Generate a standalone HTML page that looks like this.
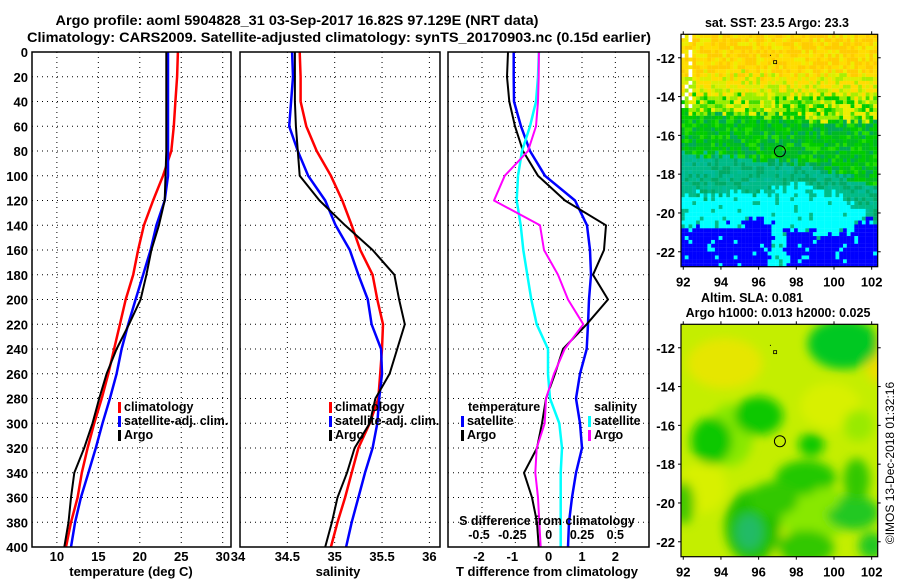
<!DOCTYPE html>
<html><head><meta charset="utf-8">
<style>
html,body{margin:0;padding:0;background:#fff;}
svg{display:block;font-family:"Liberation Sans",Arial,sans-serif;font-weight:bold;}
</style></head>
<body>
<svg id="fig" width="900" height="580" viewBox="0 0 900 580" xmlns="http://www.w3.org/2000/svg">
<defs>
<filter id="blur" x="-20%" y="-20%" width="140%" height="140%"><feGaussianBlur stdDeviation="5"/></filter>
<clipPath id="clipTop"><rect x="681" y="34.3" width="196.7" height="232.4"/></clipPath>
<clipPath id="clipBot"><rect x="681" y="324.3" width="196.7" height="232.4"/></clipPath>
</defs>
<text x="297" y="25" font-size="14" text-anchor="middle" textLength="483" lengthAdjust="spacingAndGlyphs">Argo profile: aoml 5904828_31 03-Sep-2017 16.82S 97.129E (NRT data)</text>
<text x="339" y="42" font-size="14" text-anchor="middle" textLength="624" lengthAdjust="spacingAndGlyphs">Climatology: CARS2009. Satellite-adjusted climatology: synTS_20170903.nc (0.15d earlier)</text>
<g id="panels"></g>
<g id="maps"></g>
<text transform="translate(894,463) rotate(-90)" font-size="12" font-weight="normal" text-anchor="middle">©IMOS 13-Dec-2018 01:32:16</text>
</svg>
<script>
// ---- data ----
const depths = [0,20,40,60,80,100,120,140,160,180,200,220,240,260,280,300,320,340,360,380,400];
const tempClim = [24.6,24.5,24.3,24.1,23.8,22.8,21.6,20.5,19.8,19.2,18.3,17.6,16.9,16.2,15.4,14.5,13.7,13.0,12.5,11.7,11.1];
const tempSat  = [23.4,23.4,23.4,23.4,23.4,23.4,23.0,22.0,21.3,20.4,19.5,18.6,17.8,17.2,16.4,15.5,14.7,13.8,12.9,12.2,11.7];
const tempArgo = [23.2,23.2,23.2,23.2,23.2,23.1,23.0,22.3,21.4,20.8,20.1,18.7,17.2,16.0,15.1,14.3,13.3,12.1,11.7,11.4,10.9];
const salClim = [34.63,34.64,34.64,34.70,34.81,34.96,35.08,35.18,35.27,35.40,35.45,35.51,35.50,35.48,35.46,35.37,35.25,35.18,35.11,35.03,34.96];
const salSat  = [34.55,34.56,34.54,34.52,34.61,34.72,34.90,35.01,35.16,35.25,35.35,35.39,35.49,35.50,35.47,35.45,35.40,35.32,35.25,35.18,35.12];
const salArgo = [34.58,34.58,34.58,34.59,34.61,34.63,34.84,35.11,35.40,35.63,35.68,35.74,35.66,35.58,35.43,35.37,35.21,35.13,35.03,34.97,34.90];
const dTempSat  = [-1.05,-1.05,-1.04,-0.83,-0.56,-0.11,0.79,1.15,1.24,1.27,1.21,1.18,1.14,0.94,0.82,0.94,1.0,0.82,0.7,0.61,0.58];
const dTempArgo = [-1.22,-1.25,-1.18,-1.01,-0.77,-0.32,0.49,1.72,1.66,1.33,1.78,1.14,0.43,0.19,-0.08,-0.2,-0.35,-0.74,-0.5,-0.35,-0.3];
const dSalSat  = [-0.073,-0.08,-0.095,-0.14,-0.2,-0.23,-0.24,-0.21,-0.19,-0.16,-0.13,-0.09,-0.005,-0.005,0.01,0.08,0.1,0.09,0.09,0.09,0.09];
const dSalArgo = [-0.073,-0.075,-0.08,-0.095,-0.155,-0.33,-0.41,-0.065,-0.035,0.07,0.145,0.26,0.12,0.04,-0.02,-0.03,-0.09,-0.1,-0.08,-0.07,-0.06];
const depthTicks = [0,20,40,60,80,100,120,140,160,180,200,220,240,260,280,300,320,340,360,380,400];
const tempTicks = [10,15,20,25,30];
const salTicks = [34,34.5,35,35.5,36];
const salTickLabels = ["34","34.5","35","35.5","36"];
const dTTicks = [-2,-1,0,1,2];
const dSTicks = [-0.5,-0.25,0,0.25,0.5];
const dSTickLabels = ["-0.5","-0.25","0","0.25","0.5"];
const latTicks = [-12,-14,-16,-18,-20,-22];
const lonTicks = [92,94,96,98,100,102];
const argoLon = 97.129, argoLat = -16.82;

const NS = "http://www.w3.org/2000/svg";
function mk(tag, attrs, parent){const e=document.createElementNS(NS,tag);for(const k in attrs)e.setAttribute(k,attrs[k]);if(parent)parent.appendChild(e);return e;}
const Y0=52, Y1=547;
const yD = d => Y0 + d*(Y1-Y0)/400;
const panelsG = document.getElementById('panels');

function panel(name, x0, x1, dmin, dmax){
  const sx = v => x0 + (v-dmin)*(x1-x0)/(dmax-dmin);
  const g = mk('g',{},panelsG);
  
  
  return {g, sx};
}
function grid(p, xticks, x0, x1){
  depthTicks.forEach(d=>{ if(d>0&&d<400){ const l=mk('line',{x1:x0,x2:x1,y1:yD(d),y2:yD(d),stroke:'#000','stroke-width':1,'stroke-dasharray':'1,4'},p.g);
      }});
  xticks.forEach(v=>{ const x=p.sx(v); if(x>x0+1&&x<x1-1){ const l=mk('line',{x1:x,x2:x,y1:Y0,y2:Y1,stroke:'#000','stroke-width':1,'stroke-dasharray':'1,4'},p.g);
      }});
}
function frame(p,x0,x1){ const r=mk('rect',{x:x0,y:Y0,width:x1-x0,height:Y1-Y0,fill:'none',stroke:'#000','stroke-width':1.5},p.g);
    }
function line(p, vals, color, w, name){
  const pts = vals.map((v,i)=>p.sx(v).toFixed(1)+','+yD(depths[i]).toFixed(1)).join(' ');
  const l = mk('polyline',{points:pts,fill:'none',stroke:color,'stroke-width':w,'stroke-linejoin':'round'},p.g);
   
}
function txt(parent, x, y, s, size, anchor, name){
  const t = mk('text',{x:x,y:y,'font-size':size,'text-anchor':anchor||'start'},parent);
  t.textContent = s;   return t;
}
function legend(parent, x, y, color, label, name){
  const r = mk('rect',{x:x,y:y-9,width:3,height:11,fill:color},parent);
   
  txt(parent, x+6, y, label, 12.5, 'start', name+'-label');
}

// Panel 1: temperature
const p1 = panel('temperature-panel',32,231,7,31);
grid(p1,tempTicks,32,231);
line(p1,tempClim,'#ff0000',2.5,'temp-climatology-line');
line(p1,tempSat,'#0000ff',2.5,'temp-satellite-line');
line(p1,tempArgo,'#000000',2,'temp-argo-line');
frame(p1,32,231);
depthTicks.forEach(d=>txt(p1.g,28,yD(d)+5,String(d),13,'end','depth-tick-label'));
tempTicks.forEach(v=>txt(p1.g,p1.sx(v),561,String(v),13,'middle','temp-tick-label'));
txt(p1.g,131,576,'temperature (deg C)',13,'middle','temp-axis-title');
legend(p1.g,118,411,'#ff0000','climatology','legend-climatology');
legend(p1.g,118,425,'#0000ff','satellite-adj. clim.','legend-satellite');
legend(p1.g,118,439,'#000000','Argo','legend-argo');

// Panel 2: salinity
const p2 = panel('salinity-panel',240,440,34,36.112);
grid(p2,salTicks,240,440);
line(p2,salClim,'#ff0000',2.5,'sal-climatology-line');
line(p2,salSat,'#0000ff',2.5,'sal-satellite-line');
line(p2,salArgo,'#000000',2,'sal-argo-line');
frame(p2,240,440);
salTicks.forEach((v,i)=>txt(p2.g,p2.sx(v)+(i===0?-2:0),561,salTickLabels[i],13,'middle','sal-tick-label'));
txt(p2.g,338,576,'salinity',13,'middle','sal-axis-title');
legend(p2.g,329,411,'#ff0000','climatology','legend2-climatology');
legend(p2.g,329,425,'#0000ff','satellite-adj. clim.','legend2-satellite');
legend(p2.g,329,439,'#000000','Argo','legend2-argo');

// Panel 3: differences
const p3 = panel('difference-panel',448,649,-3.02,3.01);
grid(p3,dTTicks,448,649);
const sxS = v => p3.sx(v*4);
const p3s = {g:p3.g, sx:v=>sxS(v)};
line(p3,dTempSat,'#0000ff',2.5,'dtemp-satellite-line');
line(p3,dTempArgo,'#000000',2,'dtemp-argo-line');
line(p3s,dSalSat,'#00ffff',2.5,'dsal-satellite-line');
line(p3s,dSalArgo,'#ff00ff',2,'dsal-argo-line');
frame(p3,448,649);
dTTicks.forEach(v=>txt(p3.g,p3.sx(v)-(v<0?3:0),561,String(v),13,'middle','dtemp-tick-label'));
txt(p3.g,547,576,'T difference from climatology',13,'middle','dtemp-axis-title');
dSTicks.forEach((v,i)=>txt(p3.g,sxS(v)-(v<0?3:0),539,dSTickLabels[i],12.5,'middle','dsal-tick-label'));
txt(p3.g,547,525,'S difference from climatology',12.5,'middle','dsal-axis-title');
txt(p3.g,468,411,'temperature',12.5,'start','legend3-temperature-heading');
legend(p3.g,461,425,'#0000ff','satellite','legend3-temp-satellite');
legend(p3.g,461,439,'#000000','Argo','legend3-temp-argo');
txt(p3.g,594,411,'salinity',12.5,'start','legend3-salinity-heading');
legend(p3.g,588,425,'#00ffff','satellite','legend3-sal-satellite');
legend(p3.g,588,439,'#ff00ff','Argo','legend3-sal-argo');

// ---- maps ----
const mapsG = document.getElementById('maps');
const MX0=681, MX1=877.7, LON0=91.88, LON1=102.32, LAT0=-10.79, LAT1=-22.77;
const mx = lon => MX0 + (lon-LON0)*(MX1-MX0)/(LON1-LON0);
function mapFrame(top, name, clipId){
  const g = mk('g',{},mapsG);
   
  const my = lat => top + (LAT0-lat)*232.4/(LAT0-LAT1);
  const inner = mk('g',{'clip-path':'url(#'+clipId+')'},g);
  return {g, inner, my, top};
}
function hash(i,j){let h=(i*374761393+j*668265263)|0;h=(h^(h>>>13))*1274126177;h=h^(h>>>16);return ((h>>>0)%1000)/1000;}
function interp(arr, lon){const xs=[92,94,96,98,100,102];if(lon<=92)return arr[0];if(lon>=102)return arr[5];const k=Math.floor((lon-92)/2);const f=(lon-xs[k])/2;return arr[k]*(1-f)+arr[k+1]*f;}
// top map: SST classes
const mA = mapFrame(34.3,'sst-map','clipTop');
const bGreen=[-14.8,-14.8,-14.9,-15.0,-15.2,-15.2], bTeal=[-16.8,-17.0,-17.2,-17.2,-17.8,-18.5], bCyan=[-19.0,-19.0,-18.8,-18.3,-18.8,-20.3], bBlue=[-20.7,-20.6,-20.3,-20.8,-21.2,-20.2];
const dl=0.2;
for(let lon=LON0; lon<LON1; lon+=dl){
  for(let lat=LAT0; lat>LAT1; lat-=dl){
    const i=Math.round(lon*5), j=Math.round(-lat*5), h=hash(i,j), h2=hash(j+7,i+3), n=(h2-0.5)*0.5;
    const L=lat+n;
    let c;
    if(L>-12.8) c = h<0.45?'#ffcc00':(h<0.8?'#ffdd00':'#eeee00');
    else if(L>-13.8) c = h<0.4?'#ffdd00':(h<0.75?'#ddee00':'#aaee00');
    else if(L>interp(bGreen,lon)) c = h<0.3?'#eeee00':(h<0.6?'#99ee00':(h<0.85?'#00cc00':'#44dd00'));
    else if(L>interp(bTeal,lon)) c = h<0.35?'#00bb22':(h<0.65?'#00cc00':(h<0.85?'#00aa55':'#22dd00'));
    else if(L>interp(bCyan,lon)) c = h<0.5?'#00bb88':(h<0.8?'#00aa66':'#00bb99');
    else if(L>interp(bBlue,lon) || (lon>96.4+0.3*h&&lon<97.5-0.3*h2&&lat>-22.6)) c = h<0.9?'#00ffff':'#00bb88';
    else c = h<0.96?'#0000ff':'#00ffff';
    if(lon<92.3 && lat>-14.6 && h<0.25) c='#ffffff';
    mk('rect',{x:mx(lon).toFixed(2),y:mA.my(lat).toFixed(2),width:3.9,height:4.0,fill:c},mA.inner);
  }
}
// bottom map: SLA smooth field
const mB = mapFrame(324.3,'sla-map','clipBot');
mk('rect',{x:MX0,y:324.3,width:MX1-MX0,height:232.4,fill:'#c4ee00'},mB.inner);
const blobG = mk('g',{filter:'url(#blur)'},mB.inner);
const blobLon=[94.2,102.3,93.0,99.8,97.5,94.5,99.0,100.5,93.5,96.0,98.8,95.7,95.5,98.5,101.0,101.2,98.5,92.0,102.0,99.5,96.8,101.3];
const blobLat=[-12.8,-12.6,-19.2,-15.0,-22.0,-16.5,-20.5,-11.8,-16.8,-15.5,-17.0,-21.2,-21.5,-18.7,-20.5,-18.8,-22.3,-20.0,-22.2,-19.8,-19.8,-16.0];
const blobRx=[2.0,0.6,1.3,1.6,1.2,1.2,2.0,1.9,1.1,1.3,0.7,1.5,0.7,1.6,1.4,0.7,1.5,0.6,0.7,0.8,1.3,0.8];
const blobRy=[1.3,1.2,1.3,1.2,0.8,1.6,1.4,1.3,1.2,1.0,0.6,1.9,0.9,0.9,0.9,1.1,0.9,1.1,0.7,0.6,0.9,0.8];
const blobC=['#e6e600','#eedd00','#d8f000','#d8f000','#d4f000','#88e800','#88e800','#00c820','#11c800','#11c800','#11c800','#22c000','#22bb66','#22c800','#22c822','#33c800','#33c800','#44c800','#22c822','#88e800','#33c800','#99ea00'];
const kx=(MX1-MX0)/(LON1-LON0), ky=232.4/(LAT0-LAT1);
blobLon.forEach((lo,k)=>{
  const e=mk('ellipse',{cx:mx(lo),cy:mB.my(blobLat[k]),rx:blobRx[k]*kx,ry:blobRy[k]*ky,fill:blobC[k]},blobG);
   
});
[mA,mB].forEach((m,idx)=>{
  const base=idx===0?'sst':'sla';
  mk('circle',{cx:mx(argoLon),cy:m.my(argoLat),r:5.5,fill:'none',stroke:'#000','stroke-width':1},m.g);
  mk('rect',{x:mx(96.6),y:m.my(-11.85),width:1,height:1,fill:'#000'},m.g);
  mk('rect',{x:mx(96.85)-1,y:m.my(-12.2)-1,width:3,height:3,fill:'none',stroke:'#000','stroke-width':0.8},m.g);
  const fr=mk('rect',{x:MX0,y:m.top,width:MX1-MX0,height:232.4,fill:'none',stroke:'#000','stroke-width':1.2},m.g);
   
  latTicks.forEach(la=>{const y=m.my(la);
    mk('line',{x1:MX0-3,x2:MX0,y1:y,y2:y,stroke:'#000'},m.g);
    mk('line',{x1:MX1,x2:MX1+3,y1:y,y2:y,stroke:'#000'},m.g);
    txt(m.g,675,y+5,String(la),13,'end',base+'-lat-tick-label');});
  lonTicks.forEach(lo=>{const x=mx(lo);
    mk('line',{x1:x,x2:x,y1:m.top-3,y2:m.top,stroke:'#000'},m.g);
    mk('line',{x1:x,x2:x,y1:m.top+232.4,y2:m.top+235.4,stroke:'#000'},m.g);
    txt(m.g,x,m.top+252,String(lo),13,'middle',base+'-lon-tick-label');});
});
txt(mapsG,777,27,'sat. SST: 23.5 Argo: 23.3',12.5,'middle','sst-map-title');
txt(mapsG,752,302,'Altim. SLA: 0.081',12.5,'middle','sla-map-title');
txt(mapsG,778,317,'Argo h1000: 0.013 h2000: 0.025',12.5,'middle','sla-map-subtitle');
</script>
</body></html>
